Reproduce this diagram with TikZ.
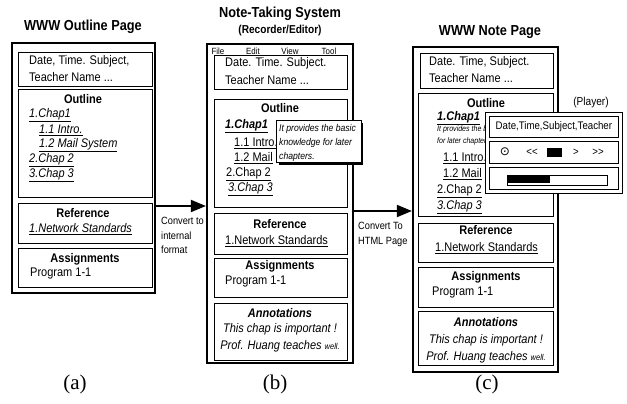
\documentclass[tikz,border=0pt]{standalone}
\usepackage{fontspec}
\setmainfont{Liberation Sans}[FakeStretch=0.88]
\newfontfamily\capfont{Liberation Serif}
\newfontfamily\symfont{DejaVu Sans}
\usetikzlibrary{arrows.meta}

\begin{document}
\begin{tikzpicture}[x=1pt,y=-1pt,
  outerbox/.style={draw, line width=2.2pt, inner sep=0, minimum width=#1},
  sect/.style={draw, line width=0.8pt, inner sep=0},
  txt/.style={anchor=west, inner sep=0, font=\fontsize{12.5}{14}\selectfont},
  hdr/.style={inner sep=0, font=\fontsize{12.5}{14}\selectfont\bfseries},
  ctxt/.style={inner sep=0, font=\fontsize{12.5}{14}\selectfont},
  ptitle/.style={inner sep=0, font=\fontsize{14.5}{16}\selectfont\bfseries},
  panelcap/.style={inner sep=0, font=\capfont\fontsize{21}{23}\selectfont},
  flowlabel/.style={anchor=north west, inner sep=0, align=left, font=\fontsize{10.5}{14.5}\selectfont},
  menu/.style={inner sep=0, font=\fontsize{9}{10}\selectfont},
  flow/.style={line width=1.8pt, -{Triangle[length=15pt,width=12pt]}},
  popup/.style={draw, line width=0.8pt, fill=white, inner sep=0},
  key/.style={inner sep=0, font=\fontsize{11}{12}\selectfont}
]
\useasboundingbox (0,0) rectangle (627,404);

% ---------------- (a) WWW Outline Page ----------------
\node[ptitle] (ta) at (83,27) {WWW Outline Page};
\node[outerbox=143pt, minimum height=250pt] (pa) at (83.5,168) {};
\node[sect, minimum width=134pt, minimum height=34pt] (adate) at (85,69) {};
\node[sect, minimum width=134pt, minimum height=108pt] (aout) at (85,143) {};
\node[sect, minimum width=134pt, minimum height=40pt] (aref) at (85,223) {};
\node[sect, minimum width=134pt, minimum height=39pt] (aasg) at (85,267.5) {};

\node[txt] (ad1) at (29,61) {Date, Time. Subject,};
\node[txt] (ad2) at (29,77) {Teacher Name ...};
\node[hdr] (ah1) at (83,99) {Outline};
\node[txt] (ao1) at (29,115) {\itshape\underline{1.Chap1}};
\node[txt] (ao2) at (39,130) {\itshape\underline{1.1 Intro.}};
\node[txt] (ao3) at (39,145) {\itshape\underline{1.2 Mail System}};
\node[txt] (ao4) at (29,160) {\itshape\underline{2.Chap 2}};
\node[txt] (ao5) at (29,175) {\itshape\underline{3.Chap 3}};
\node[hdr] (ah2) at (83,213) {Reference};
\node[txt] (ar1) at (29,229) {\itshape\underline{1.Network Standards}};
\node[hdr] (ah3) at (85,259) {Assignments};
\node[txt] (aa1) at (30,273) {Program 1-1};
\node[panelcap] (ca) at (75,384) {(a)};

% ---------------- (b) Note-Taking System ----------------
\node[ptitle] (tb1) at (280,14) {Note-Taking System};
\node[inner sep=0, font=\fontsize{11.5}{13}\selectfont\bfseries] (tb2) at (280,31) {(Recorder/Editor)};
\node[outerbox=146pt, minimum height=319pt] (pb) at (280,203.5) {};
\node[menu] (m1) at (218,51) {File};
\node[menu] (m2) at (253,51) {Edit};
\node[menu] (m3) at (290,51) {View};
\node[menu] (m4) at (329,51) {Tool};
\node[sect, minimum width=133pt, minimum height=34pt] (bdate) at (280.5,72) {};
\node[sect, minimum width=133pt, minimum height=108pt] (bout) at (280.5,153) {};
\node[sect, minimum width=133pt, minimum height=41pt] (bref) at (280.5,233.5) {};
\node[sect, minimum width=133pt, minimum height=39pt] (basg) at (280.5,277.5) {};
\node[sect, minimum width=133pt, minimum height=57pt] (bann) at (280.5,331.5) {};

\node[txt] (bd1) at (225,63) {Date. Time. Subject.};
\node[txt] (bd2) at (225,80) {Teacher Name ...};
\node[hdr] (bh1) at (280,108) {Outline};
\node[txt] (bo1) at (225,126) {\bfseries\itshape\underline{1.Chap1}};
\node[txt] (bo2) at (234,143) {\underline{1.1 Intro.}};
\node[txt] (bo3) at (234,158) {\underline{1.2 Mail}};
\node[txt] (bo4) at (226,174) {\underline{2.Chap 2}};
\node[txt] (bo5) at (228,189) {\itshape\underline{3.Chap 3}};
\node[hdr] (bh2) at (280,224) {Reference};
\node[txt] (br1) at (225,241) {\underline{1.Network Standards}};
\node[hdr] (bh3) at (280,266) {Assignments};
\node[txt] (ba1) at (225,281) {Program 1-1};
\node[hdr, font=\fontsize{12.5}{14}\selectfont\bfseries\itshape] (bh4) at (280,313) {Annotations};
\node[ctxt, font=\fontsize{12.5}{14}\selectfont\itshape] (bn1) at (280,329) {This chap is important !};
\node[ctxt, font=\fontsize{12.5}{14}\selectfont\itshape] (bn2) at (280,346) {Prof. Huang teaches {\fontsize{8.5}{10}\selectfont well.}};
\node[panelcap] (cb) at (275,384) {(b)};

% tooltip with a drop shadow
\fill[black] (279,123) rectangle (363,165);
\node[popup, minimum width=85pt, minimum height=42pt, anchor=north west] (tip) at (276,120) {};
\node[flowlabel, font=\fontsize{9.8}{14}\selectfont\itshape] (tiptxt) at (279,124) {It provides the basic\\knowledge for later\\chapters.};

% ---------------- (c) WWW Note Page ----------------
\node[ptitle] (tc) at (490,32) {WWW Note Page};
\node[outerbox=145pt, minimum height=325pt] (pc) at (485.5,209.5) {};
\node[sect, minimum width=133pt, minimum height=35pt] (cdate) at (486.5,70.5) {};
\node[sect, minimum width=135pt, minimum height=123pt] (cout) at (485.5,154.5) {};
\node[sect, minimum width=135pt, minimum height=39pt] (cref) at (485.5,242.5) {};
\node[sect, minimum width=135pt, minimum height=40pt] (casg) at (485.5,287) {};
\node[sect, minimum width=135pt, minimum height=54pt] (cann) at (485.5,338) {};

\node[txt] (cd1) at (429,62) {Date. Time, Subject.};
\node[txt] (cd2) at (429,78) {Teacher Name ...};
\node[hdr] (ch1) at (486,103) {Outline};
\node[txt] (co1) at (437,118) {\bfseries\itshape\underline{1.Chap1}};
\node[txt, font=\fontsize{8}{9}\selectfont\itshape] (co1a) at (437,129) {It provides the basic};
\node[txt, font=\fontsize{8}{9}\selectfont\itshape] (co1b) at (437,141) {for later chapters.};
\node[txt] (co2) at (443,158) {\underline{1.1 Intro.}};
\node[txt] (co3) at (443,174) {\underline{1.2 Mail}};
\node[txt] (co4) at (437,191) {\underline{2.Chap 2}};
\node[txt] (co5) at (437,207) {\itshape\underline{3.Chap 3}};
\node[hdr] (ch2) at (486,230) {Reference};
\node[txt] (cr1) at (435,248) {\underline{1.Network Standards}};
\node[hdr] (ch3) at (486,277) {Assignments};
\node[txt] (ca1) at (432,292) {Program 1-1};
\node[hdr, font=\fontsize{12.5}{14}\selectfont\bfseries\itshape] (ch4) at (486,322) {Annotations};
\node[ctxt, font=\fontsize{12.5}{14}\selectfont\itshape] (cn1) at (486,340) {This chap is important !};
\node[ctxt, font=\fontsize{12.5}{14}\selectfont\itshape] (cn2) at (486,357) {Prof. Huang teaches {\fontsize{8.5}{10}\selectfont well.}};
\node[panelcap] (cc) at (487,384) {(c)};

% player window on top of the note page
\node[inner sep=0, font=\fontsize{11.5}{13}\selectfont] (plbl) at (591,103) {(Player)};
\node[popup, line width=1.2pt, minimum width=137pt, minimum height=81pt, anchor=north west] (pl) at (485,112) {};
\node[sect, minimum width=129pt, minimum height=21pt, anchor=north west] (plinfo) at (489,116) {};
\node[sect, minimum width=129pt, minimum height=22pt, anchor=north west] (plctl) at (489,141) {};
\node[sect, minimum width=129pt, minimum height=22pt, anchor=north west] (plbar) at (489,167) {};
\node[inner sep=0, font=\fontsize{11}{12}\selectfont] (plt) at (plinfo.center) {Date,Time,Subject,Teacher};
\node[inner sep=0, font=\symfont\fontsize{12}{12}\selectfont] (k1) at (505,152) {⊙};
\node[key] (k2) at (532,152) {<\kern0pt<};
\fill (547,148) rectangle (562,157);
\node[key] (k3) at (576,152) {>};
\node[key] (k4) at (598,152) {>\kern0pt>};
\draw[line width=0.7pt] (507,175) rectangle (607,185);
\fill (507,175) rectangle (550,183);

% ---------------- conversion arrows ----------------
\coordinate (ya) at (0,206);
\coordinate (yb) at (0,211);
\draw[flow] (pa.east |- ya) -- (pb.west |- ya);
\draw[flow] (pb.east |- yb) -- (pc.west |- yb);
\node[flowlabel] (la) at (161,217) {Convert to\\internal\\format};
\node[flowlabel] (lb) at (358,222) {Convert To\\HTML Page};
\end{tikzpicture}
\end{document}
